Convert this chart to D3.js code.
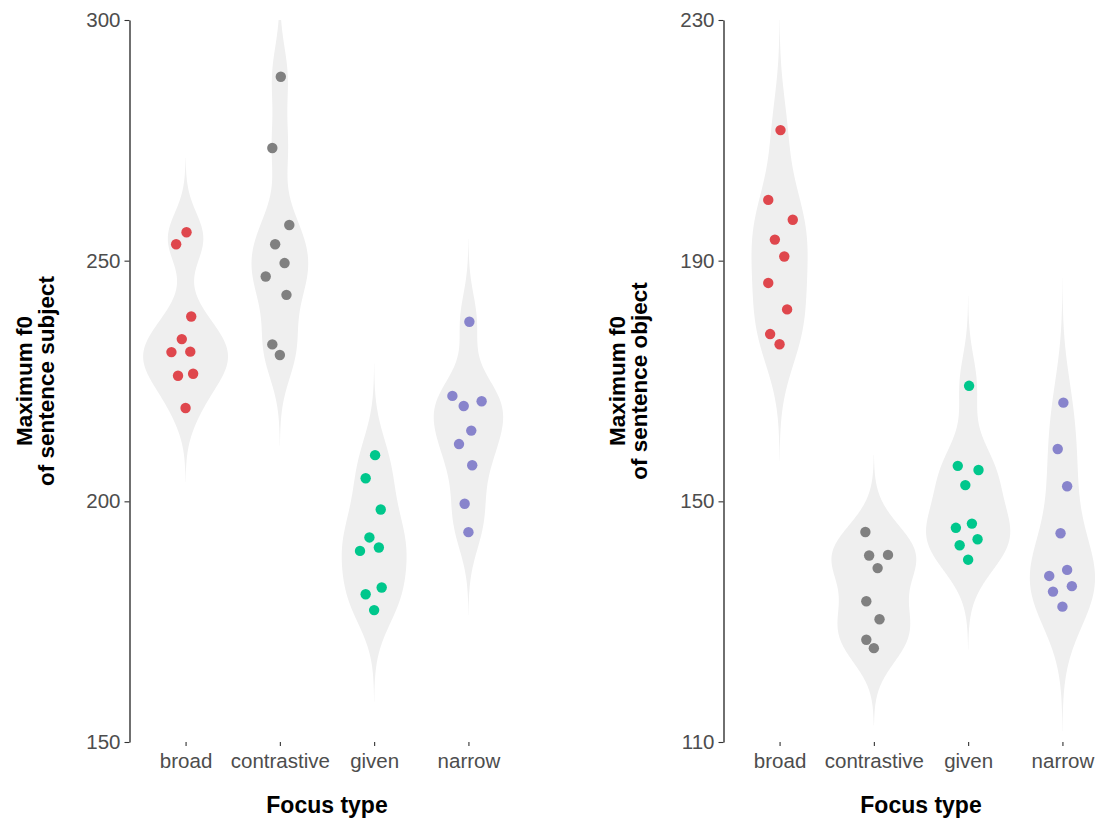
<!DOCTYPE html>
<html>
<head>
<meta charset="utf-8">
<script src="https://cdn.jsdelivr.net/npm/d3@7"></script>
<style>
  body { margin: 0; background: #fff; }
  text { font-family: "Liberation Sans", Arial, sans-serif; }
</style>
</head>
<body>
<div id="viz"></div>
<script>
const width = 1096;
const height = 820;

const categories = ['broad', 'contrastive', 'given', 'narrow'];
const colors = ['#DF474D', '#808080', '#00C78C', '#8884CC'];

// Max f0 of sentence subject (left panel), one array per focus type
const subjBroad       = [255.9, 253.4, 238.4, 233.7, 231.0, 231.1, 226.1, 226.5, 219.4];
const subjContrastive = [288.2, 273.4, 257.4, 253.4, 249.5, 246.7, 242.9, 232.6, 230.4];
const subjGiven       = [209.6, 204.8, 198.3, 192.5, 189.7, 190.4, 182.1, 180.7, 177.4];
const subjNarrow      = [237.3, 221.9, 219.8, 220.8, 214.7, 211.9, 207.5, 199.5, 193.6];
// horizontal jitter of each point, in category steps
const subjJitter = [
  [0.01, -0.10, 0.06, -0.04, -0.15, 0.05, -0.08, 0.08, 0.00],
  [0.01, -0.08, 0.10, -0.05, 0.05, -0.15, 0.07, -0.08, 0.00],
  [0.01, -0.09, 0.07, -0.05, -0.15, 0.05, 0.08, -0.09, 0.00],
  [0.01, -0.17, -0.05, 0.14, 0.03, -0.10, 0.04, -0.04, 0.00]
];

// Max f0 of sentence object (right panel)
const objBroad       = [211.7, 200.1, 196.8, 193.5, 190.7, 186.3, 181.9, 177.8, 176.1];
const objContrastive = [144.9, 141.0, 141.1, 138.9, 133.4, 130.4, 127.0, 125.6];
const objGiven       = [169.2, 155.9, 155.2, 152.7, 146.3, 145.6, 143.7, 142.7, 140.3];
const objNarrow      = [166.4, 158.7, 152.5, 144.7, 138.6, 137.6, 135.9, 135.0, 132.5];
const objJitter = [
  [0.01, -0.12, 0.14, -0.05, 0.05, -0.12, 0.08, -0.10, 0.00],
  [-0.09, -0.05, 0.15, 0.04, -0.08, 0.06, -0.08, 0.00],
  [0.01, -0.11, 0.11, -0.03, 0.04, -0.13, 0.10, -0.09, 0.00],
  [0.01, -0.05, 0.05, -0.02, 0.05, -0.14, 0.10, -0.10, 0.00]
];

const subjTicks = [150, 200, 250, 300];
const objTicks = [110, 150, 190, 230];

const svg = d3.select('#viz')
  .append('svg')
    .attr('width', width)
    .attr('height', height);

// R's nrd0 bandwidth + gaussian kde, like ggplot's violin (trim = FALSE)
const bwNrd0 = (x) => {
  const s = x.slice().sort(d3.ascending);
  const hi = d3.deviation(s);
  const iqr = d3.quantileSorted(s, 0.75) - d3.quantileSorted(s, 0.25);
  const lo = Math.min(hi, iqr / 1.34);
  return 0.9 * lo * Math.pow(s.length, -0.2);
};

const density = (x) => {
  const bw = bwNrd0(x);
  const from = d3.min(x) - 3 * bw;
  const to = d3.max(x) + 3 * bw;
  const n = 512;
  const out = [];
  for (let i = 0; i < n; i++) {
    const v = from + (to - from) * i / (n - 1);
    let sum = 0;
    x.forEach(xi => {
      const z = (v - xi) / bw;
      sum += Math.exp(-0.5 * z * z);
    });
    out.push({v: v, d: sum / (x.length * bw * Math.sqrt(2 * Math.PI))});
  }
  return out;
};

const drawPanel = (opts) => {
  const {id, groups, jitter, ticks, domain, xRange, axisX, title1, title2, titleX} = opts;

  const yScale = d3.scaleLinear().domain(domain).range([742, 20]);
  const xScale = d3.scalePoint().domain(categories).range(xRange).padding(0.6);
  const step = xScale.step();

  const dens = groups.map(density);
  const maxD = d3.max(dens, g => d3.max(g, d => d.d));

  const g = svg.append('g');

  // violins are cut at the scale limits
  g.append('clipPath')
      .attr('id', id)
    .append('rect')
      .attr('x', xRange[0])
      .attr('y', yScale(domain[1]))
      .attr('width', xRange[1] - xRange[0])
      .attr('height', yScale(domain[0]) - yScale(domain[1]));

  const vg = g.append('g').attr('clip-path', `url(#${id})`);
  dens.forEach((dg, i) => {
    const cx = xScale(categories[i]);
    const area = d3.area()
      .y(d => yScale(d.v))
      .x0(d => cx - d.d / maxD * 0.45 * step)
      .x1(d => cx + d.d / maxD * 0.45 * step);
    vg.append('path')
      .attr('d', area(dg))
      .attr('fill', '#EFEFEF')
      .attr('stroke', 'none');
  });

  // points
  groups.forEach((vals, i) => {
    const cx = xScale(categories[i]);
    g.append('g')
      .attr('fill', colors[i])
    .selectAll('circle')
    .data(vals)
    .join('circle')
      .attr('cx', (d, j) => cx + jitter[i][j] * step)
      .attr('cy', d => yScale(d))
      .attr('r', 5.2);
  });

  // y axis
  const yAxis = d3.axisLeft(yScale).tickValues(ticks).tickSize(5).tickPadding(4).tickSizeOuter(0);
  const ya = g.append('g')
    .attr('transform', `translate(${axisX},0)`)
    .call(yAxis);
  ya.select('.domain').attr('stroke', '#222').attr('stroke-width', 1.3);
  ya.selectAll('.tick line').attr('stroke', '#333').attr('stroke-width', 1.1);
  ya.selectAll('.tick text')
    .attr('fill', '#4D4D4D')
    .style('font-size', '20.5px');

  // x axis (ticks only, no line)
  const xAxis = d3.axisBottom(xScale).tickSize(4).tickPadding(7).tickSizeOuter(0);
  const xa = g.append('g')
    .attr('transform', 'translate(0,742)')
    .call(xAxis);
  xa.select('.domain').remove();
  xa.selectAll('.tick line').attr('stroke', '#333').attr('stroke-width', 1.1);
  xa.selectAll('.tick text')
    .attr('fill', '#4D4D4D')
    .style('font-size', '20.5px');

  // axis titles
  const midX = (xRange[0] + xRange[1]) / 2;
  g.append('text')
    .attr('x', midX)
    .attr('y', 813)
    .attr('text-anchor', 'middle')
    .style('font-size', '23px')
    .style('font-weight', 'bold')
    .text('Focus type');

  const yt = g.append('text')
    .attr('transform', `translate(${titleX},381) rotate(-90)`)
    .attr('text-anchor', 'middle')
    .style('font-size', '22.5px')
    .style('font-weight', 'bold');
  yt.append('tspan').attr('x', 0).attr('y', 0).text(title1);
  yt.append('tspan').attr('x', 0).attr('y', 22).text(title2);
};

drawPanel({
  id: 'clip-subj',
  groups: [subjBroad, subjContrastive, subjGiven, subjNarrow],
  jitter: subjJitter,
  ticks: subjTicks,
  domain: [150, 300],
  xRange: [129, 525],
  axisX: 129.5,
  title1: 'Maximum f0',
  title2: 'of sentence subject',
  titleX: 32
});

drawPanel({
  id: 'clip-obj',
  groups: [objBroad, objContrastive, objGiven, objNarrow],
  jitter: objJitter,
  ticks: objTicks,
  domain: [110, 230],
  xRange: [723, 1119],
  axisX: 723.5,
  title1: 'Maximum f0',
  title2: 'of sentence object',
  titleX: 625
});
</script>
</body>
</html>
